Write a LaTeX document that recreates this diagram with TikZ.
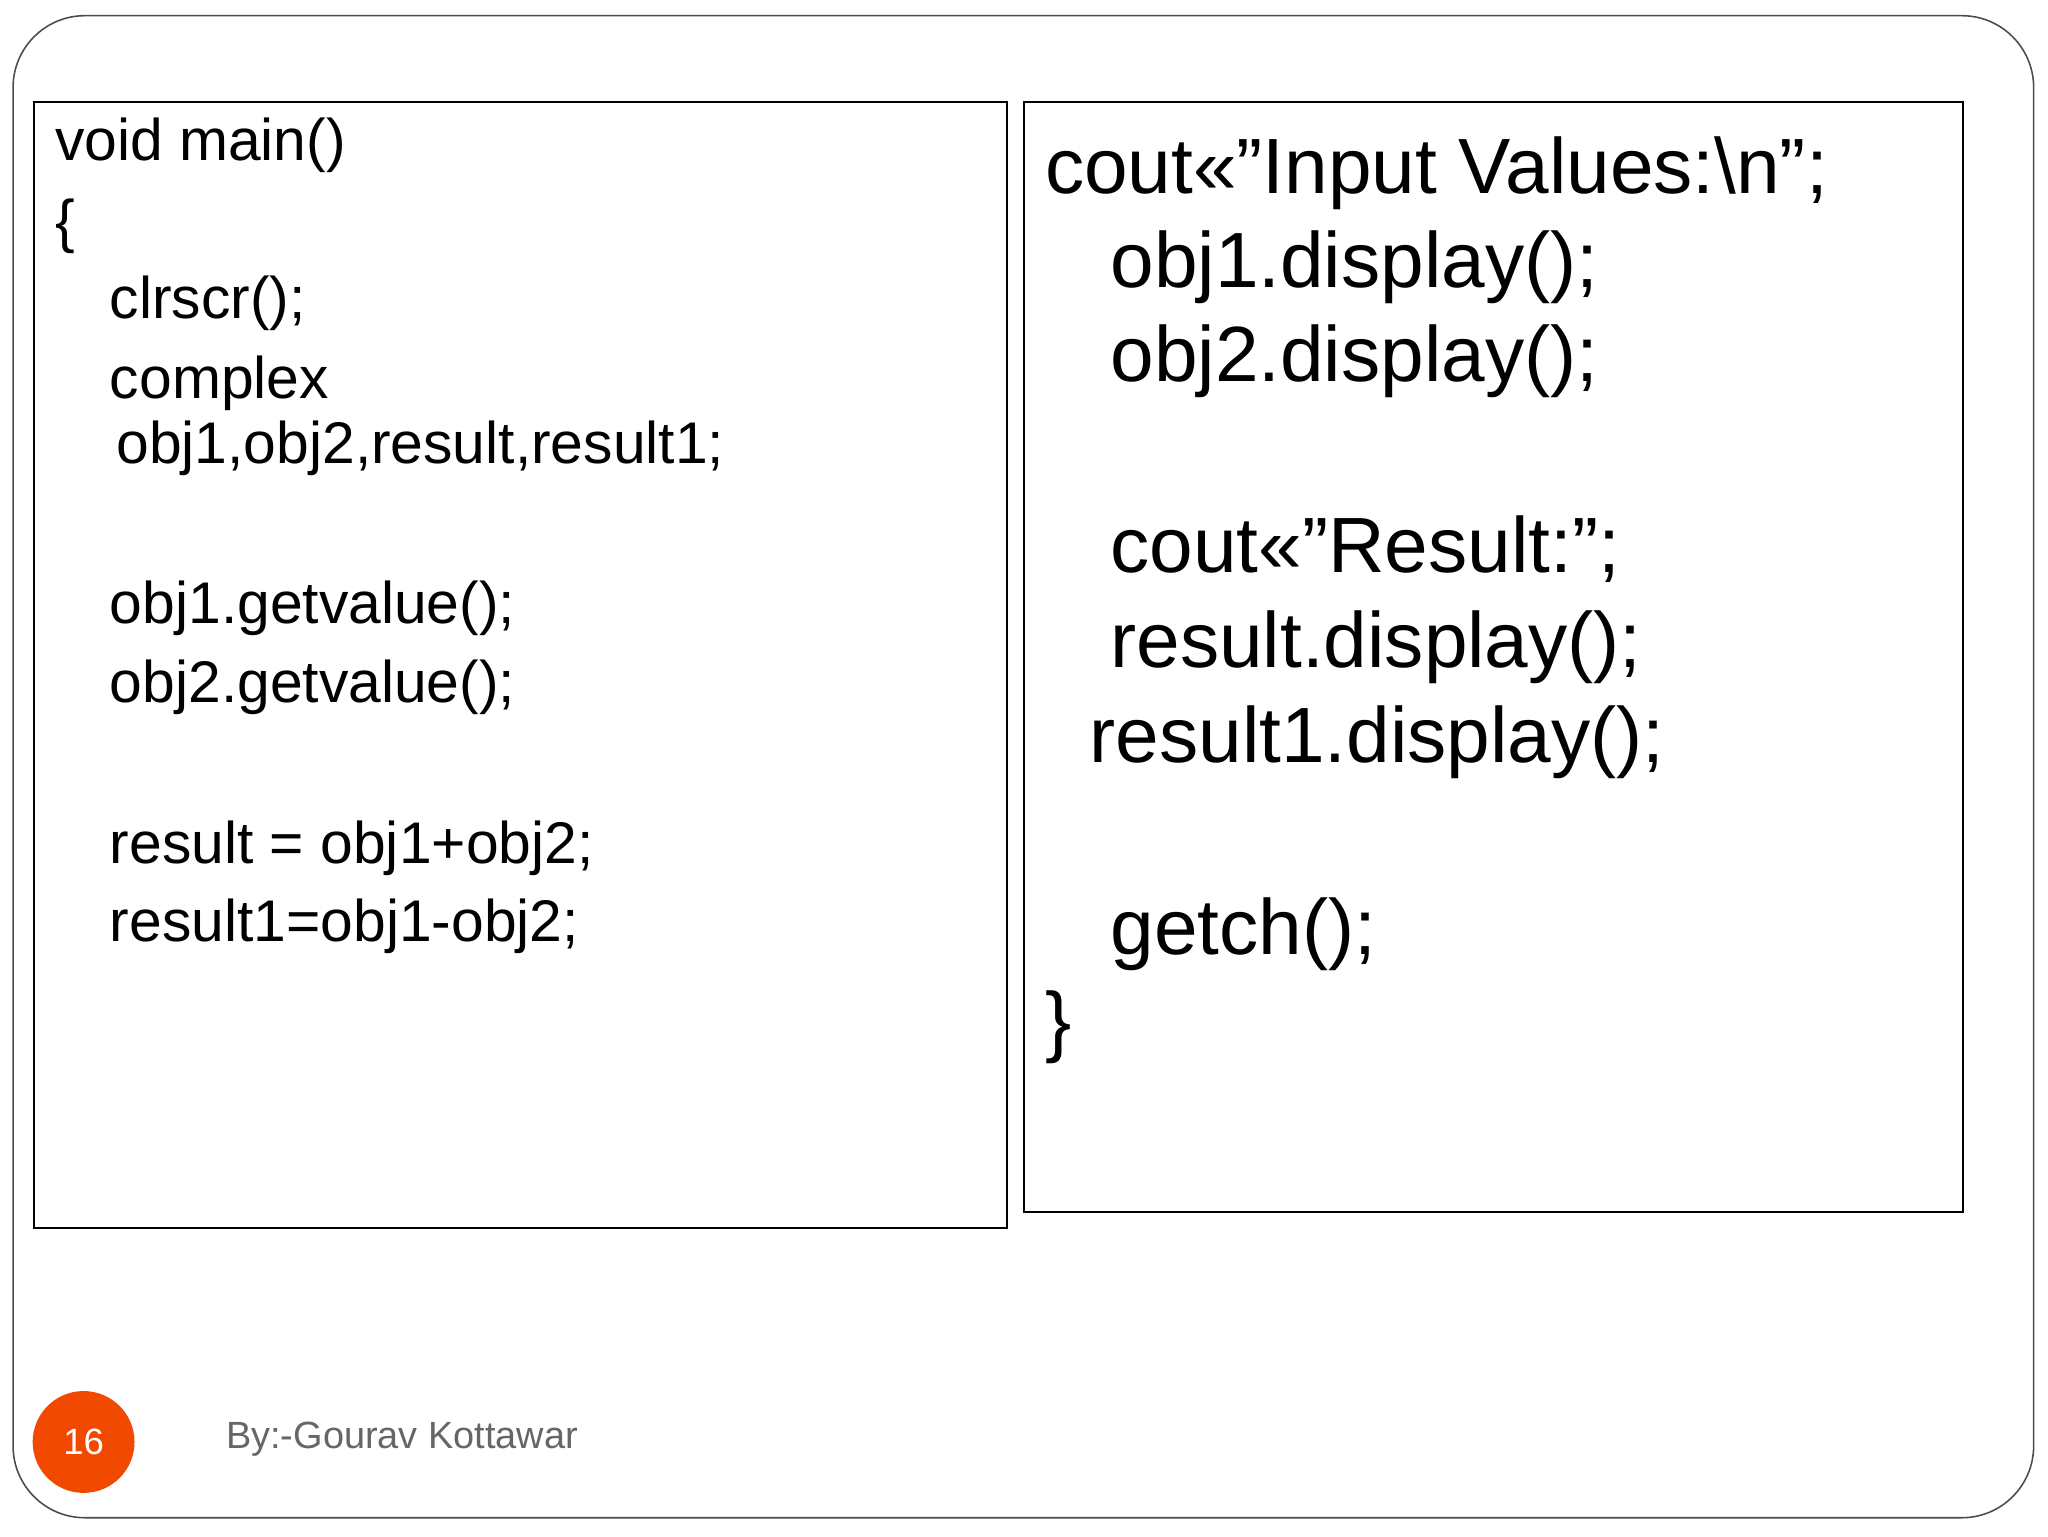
\documentclass[tikz,border=0pt]{standalone}
\usepackage{fontspec}
\setmainfont{Liberation Sans}
\begin{document}
\begin{tikzpicture}[x=1pt,y=-1pt,
  lt/.style={anchor=base west,inner sep=0pt,font=\fontsize{45}{50}\selectfont},
  rt/.style={anchor=base west,inner sep=0pt,font=\fontsize{60}{66}\selectfont},
  box/.style={draw=black,line width=1.8pt}]
\useasboundingbox (0,0) rectangle (1568,1176);
\fill[white] (0,0) rectangle (1568,1176);
\draw[draw=black!70,line width=1.2pt,rounded corners=55] (10,12) rectangle (1557,1162);
\draw[box] (26,78) rectangle (771,940);
\draw[box] (784,78) rectangle (1503,928);
\node[lt] (l1) at (42,123) {void main()};
\node[lt] (l2) at (42,185) {\{};
\node[lt] (l3) at (84,244) {clrscr();};
\node[lt] (l4) at (84,305) {complex};
\node[lt] (l5) at (89,355) {obj1,obj2,result,result1;};
\node[lt] (l6) at (84,477) {obj1.getvalue();};
\node[lt] (l7) at (84,538) {obj2.getvalue();};
\node[lt] (l8) at (84,661) {result = obj1+obj2;};
\node[lt] (l9) at (84,721) {result1=obj1-obj2;};
\node[rt] (r1) at (800,148) {cout<<"Input Values:\textbackslash n";};
\node[rt] (r2) at (850,220) {obj1.display();};
\node[rt] (r3) at (850,292) {obj2.display();};
\node[rt] (r4) at (850,438) {cout<<"Result:";};
\node[rt] (r5) at (850,511) {result.display();};
\node[rt] (r6) at (834,584) {result1.display();};
\node[rt] (r7) at (850,731) {getch();};
\node[rt] (r8) at (800,802) {\}};
\node[circle,fill=orange!60!red!95!black,minimum size=78pt,inner sep=0pt,text=white,font=\fontsize{28}{30}\selectfont] (pg) at (64,1104) {16};
\node[anchor=base west,inner sep=0pt,text=black!60,font=\fontsize{29}{32}\selectfont] (by) at (173,1109) {By:-Gourav Kottawar};
\end{tikzpicture}
\end{document}
